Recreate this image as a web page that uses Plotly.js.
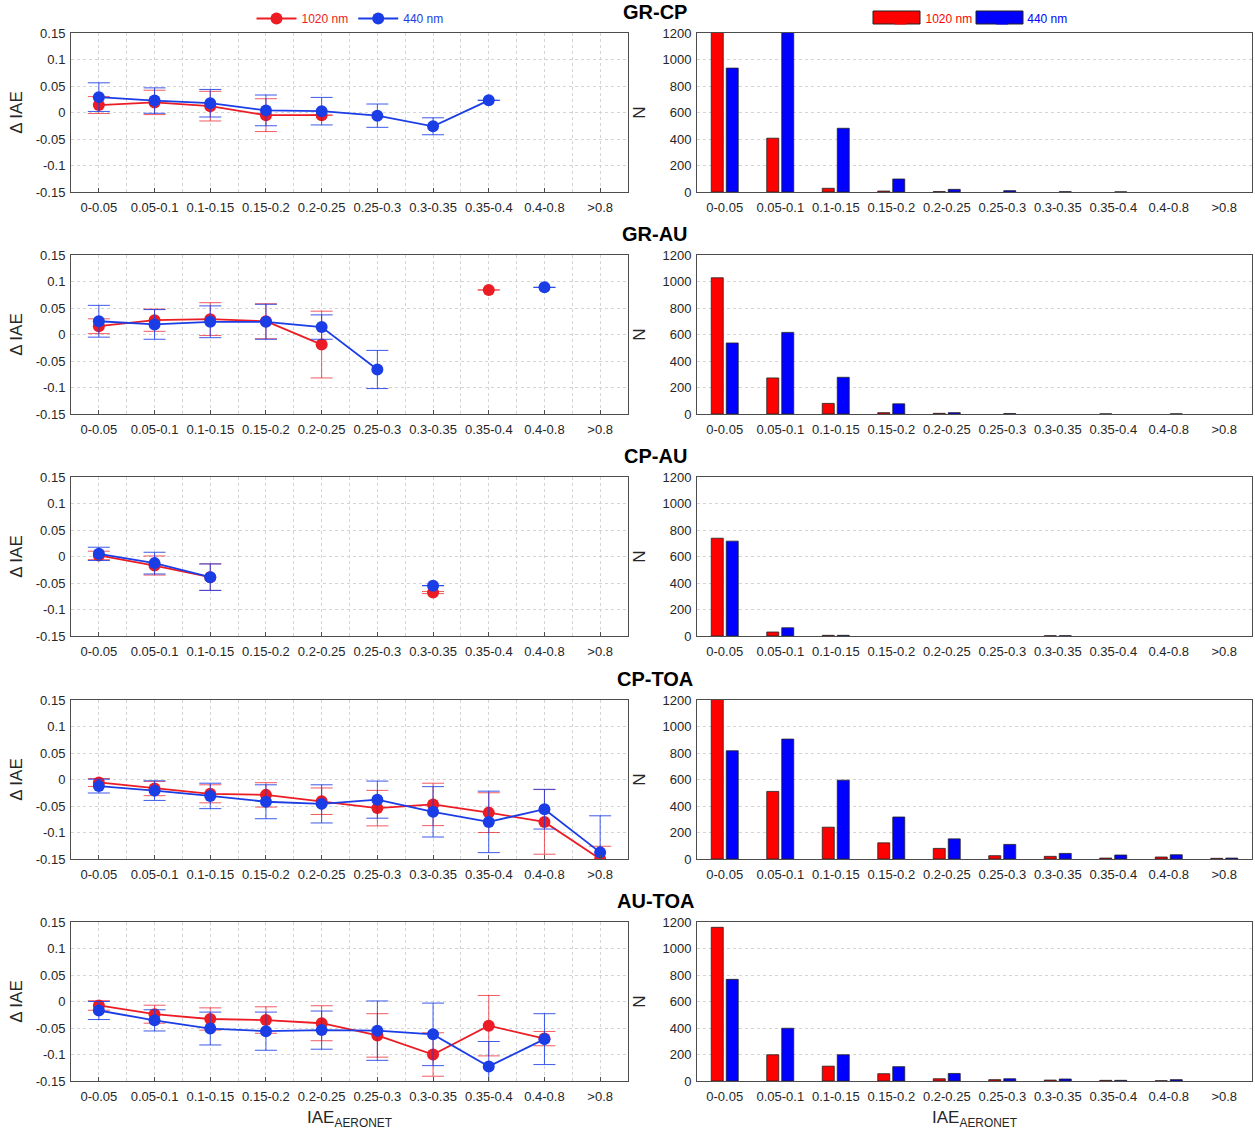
<!DOCTYPE html>
<html>
<head>
<meta charset="utf-8">
<script src="https://cdn.plot.ly/plotly-3.0.1.min.js"></script>
<style>
  html, body { margin: 0; padding: 0; background: #fff; }
  #chart { width: 1255px; height: 1137px; }
</style>
</head>
<body>
<div id="chart"></div>
<script>
// ---------- categories and tick labels ----------
const categories = ['0-0.05','0.05-0.1','0.1-0.15','0.15-0.2','0.2-0.25','0.25-0.3','0.3-0.35','0.35-0.4','0.4-0.8','>0.8'];
const deltaTickVals = [0.15, 0.1, 0.05, 0, -0.05, -0.1, -0.15];
const deltaTickText = ['0.15', '0.1', '0.05', '0', '-0.05', '-0.1', '-0.15'];
const nTickVals = [0, 200, 400, 600, 800, 1000, 1200];
const nTickText = ['0', '200', '400', '600', '800', '1000', '1200'];
const panelNames = ['GR-CP', 'GR-AU', 'CP-AU', 'CP-TOA', 'AU-TOA'];
const seriesNames = ['1020 nm', '440 nm'];

// ---------- Δ IAE (mean) and error (std) ----------
const grcp_d1020 = [0.014, 0.019, 0.012, -0.005, -0.005, null, null, null, null, null];
const grcp_e1020 = [0.016, 0.023, 0.028, 0.031, 0, null, null, null, null, null];
const grcp_d440  = [0.029, 0.0225, 0.0175, 0.004, 0.0025, -0.006, -0.026, 0.023, null, null];
const grcp_e440  = [0.027, 0.024, 0.026, 0.029, 0.026, 0.022, 0.016, 0, null, null];

const grau_d1020 = [0.0156, 0.027, 0.029, 0.025, -0.019, null, null, 0.084, null, null];
const grau_e1020 = [0.014, 0.021, 0.031, 0.033, 0.063, null, null, 0, null, null];
const grau_d440  = [0.025, 0.019, 0.024, 0.024, 0.014, -0.066, null, null, 0.089, null];
const grau_e440  = [0.030, 0.028, 0.030, 0.033, 0.023, 0.036, null, null, 0, null];

const cpau_d1020 = [0.002, -0.017, -0.039, null, null, null, -0.068, null, null, null];
const cpau_e1020 = [0.008, 0.018, 0.025, null, null, null, 0.002, null, null, null];
const cpau_d440  = [0.005, -0.0125, -0.039, null, null, null, -0.055, null, null, null];
const cpau_e440  = [0.0125, 0.0205, 0.025, null, null, null, 0, null, null, null];

const cptoa_d1020 = [-0.0056, -0.017, -0.027, -0.029, -0.041, -0.054, -0.047, -0.0625, -0.080, -0.150];
const cptoa_e1020 = [0.0075, 0.0135, 0.017, 0.023, 0.025, 0.0335, 0.040, 0.0375, 0.061, 0.024];
const cptoa_d440  = [-0.0125, -0.021, -0.031, -0.042, -0.046, -0.038, -0.061, -0.080, -0.056, -0.1375];
const cptoa_e440  = [0.013, 0.0185, 0.024, 0.032, 0.036, 0.035, 0.0475, 0.058, 0.0375, 0.069];

const autoa_d1020 = [-0.0075, -0.024, -0.033, -0.035, -0.041, -0.064, -0.100, -0.0456, -0.070, null];
const autoa_e1020 = [0.009, 0.017, 0.021, 0.025, 0.033, 0.041, 0.041, 0.057, 0.0135, null];
const autoa_d440  = [-0.017, -0.0356, -0.051, -0.056, -0.054, -0.055, -0.062, -0.1225, -0.071, null];
const autoa_e440  = [0.017, 0.020, 0.031, 0.036, 0.036, 0.056, 0.059, 0.047, 0.048, null];

// ---------- N (counts) ----------
const grcp_n1020 = [1400, 406, 28, 7, 3, 0, 0, 0, 0, 0];
const grcp_n440  = [935, 1300, 481, 98, 20, 10, 2, 1, 0, 0];
const grau_n1020 = [1028, 272, 80, 10, 5, 0, 0, 1, 0, 0];
const grau_n440  = [536, 616, 277, 77, 10, 3, 0, 0, 1, 0];
const cpau_n1020 = [738, 30, 5, 0, 0, 0, 2, 0, 0, 0];
const cpau_n440  = [716, 62, 5, 0, 0, 0, 2, 0, 0, 0];
const cptoa_n1020 = [1350, 510, 240, 122, 80, 25, 20, 7, 15, 5];
const cptoa_n440  = [817, 905, 595, 317, 152, 110, 42, 30, 32, 7];
const autoa_n1020 = [1160, 198, 112, 55, 17, 10, 7, 5, 2, 0];
const autoa_n440  = [767, 398, 198, 108, 57, 17, 15, 5, 10, 0];

// ---------- assemble ----------
const deltaSets = [
  [grcp_d1020, grcp_e1020, grcp_d440, grcp_e440],
  [grau_d1020, grau_e1020, grau_d440, grau_e440],
  [cpau_d1020, cpau_e1020, cpau_d440, cpau_e440],
  [cptoa_d1020, cptoa_e1020, cptoa_d440, cptoa_e440],
  [autoa_d1020, autoa_e1020, autoa_d440, autoa_e440]
];
const countSets = [
  [grcp_n1020, grcp_n440],
  [grau_n1020, grau_n440],
  [cpau_n1020, cpau_n440],
  [cptoa_n1020, cptoa_n440],
  [autoa_n1020, autoa_n440]
];

const W = 1255, H = 1137;
const xIdx = categories.map((c, i) => i + 1);
const redLine = '#ec1c24', blueLine = '#1b3de6';
const redErr = 'rgba(236,28,36,0.72)', blueErr = 'rgba(27,61,230,0.85)';
const redBar = '#ff0000', blueBar = '#0000ff';
const FONT = 'Liberation Sans, Arial, sans-serif';
const tickFont = { family: FONT, size: 13, color: '#262626' };
const titleFont = { family: FONT, size: 17, color: '#262626' };

// pixel geometry of the panels
const rowTop = [33, 255, 477, 700, 922];
const rowH = 159;
const leftX = [71, 628], rightX = [697, 1252];

const traces = [];
const layout = {
  width: W, height: H,
  margin: { l: 0, r: 0, t: 0, b: 0 },
  paper_bgcolor: '#ffffff', plot_bgcolor: '#ffffff',
  font: { family: FONT, color: '#262626' },
  barmode: 'group', bargap: 0.46, bargroupgap: 0.2,
  annotations: [], shapes: [], showlegend: true,
  legend: {
    x: 350 / W, xanchor: 'center', y: 1 - 4 / H, yanchor: 'top',
    orientation: 'h', font: { family: FONT, size: 12 }, bgcolor: 'rgba(0,0,0,0)',
    itemwidth: 40
  },
  legend2: {
    x: 974 / W, xanchor: 'center', y: 1 - 4 / H, yanchor: 'top',
    orientation: 'h', font: { family: FONT, size: 12 }, bgcolor: 'rgba(0,0,0,0)',
    itemwidth: 40
  },
  // hidden axes that only host the bar-legend entries
  xaxis11: { visible: false, domain: [0, 0.001], anchor: 'y11', fixedrange: true },
  yaxis11: { visible: false, domain: [0, 0.001], anchor: 'x11', fixedrange: true }
};

// bar legend entries (empty bar traces on hidden axes that only carry the legend item)
const barLegendColors = [redBar, blueBar];
seriesNames.forEach((nm, k) => {
  traces.push({
    type: 'bar', x: [null], y: [null], xaxis: 'x11', yaxis: 'y11',
    name: '<span style="color:' + barLegendColors[k] + '">' + nm + '</span>',
    legend: 'legend2', showlegend: true, hoverinfo: 'skip',
    marker: { color: barLegendColors[k], line: { color: barLegendColors[k], width: 0 } }
  });
});

for (let r = 0; r < 5; r++) {
  const yDom = [1 - (rowTop[r] + rowH) / H, 1 - rowTop[r] / H];
  const li = 2 * r + 1, ri = 2 * r + 2;
  const lx = 'x' + li, ly = 'y' + li, rx = 'x' + ri, ry = 'y' + ri;
  const lxa = 'xaxis' + li, lya = 'yaxis' + li, rxa = 'xaxis' + ri, rya = 'yaxis' + ri;
  const isLast = r === 4;

  const [d1, e1, d2, e2] = deltaSets[r];
  traces.push({
    type: 'scatter', mode: 'lines+markers', x: xIdx, y: d1, xaxis: lx, yaxis: ly,
    name: '<span style="color:#ec1c24">' + seriesNames[0] + '</span>',
    legend: 'legend', showlegend: r === 0, connectgaps: false,
    line: { color: redLine, width: 1.8 },
    marker: { color: redLine, size: 12 },
    error_y: { type: 'data', array: e1, visible: true, color: redErr, thickness: 1, width: 11 }
  });
  traces.push({
    type: 'scatter', mode: 'lines+markers', x: xIdx, y: d2, xaxis: lx, yaxis: ly,
    name: '<span style="color:#1b3de6">' + seriesNames[1] + '</span>',
    legend: 'legend', showlegend: r === 0, connectgaps: false,
    line: { color: blueLine, width: 1.8 },
    marker: { color: blueLine, size: 12 },
    error_y: { type: 'data', array: e2, visible: true, color: blueErr, thickness: 1, width: 11 }
  });

  const [n1, n2] = countSets[r];
  traces.push({
    type: 'bar', x: xIdx, y: n1, xaxis: rx, yaxis: ry,
    name: seriesNames[0], showlegend: false,
    marker: { color: redBar, line: { color: '#222222', width: n1.map(v => v > 0 ? 0.8 : 0) } }
  });
  traces.push({
    type: 'bar', x: xIdx, y: n2, xaxis: rx, yaxis: ry,
    name: seriesNames[1], showlegend: false,
    marker: { color: blueBar, line: { color: '#222222', width: n2.map(v => v > 0 ? 0.8 : 0) } }
  });

  const baseX = {
    range: [0.5, 10.5], tickmode: 'array', tickvals: xIdx, ticktext: categories,
    tickfont: tickFont, showline: true, mirror: true, linecolor: '#4d4d4d', linewidth: 1,
    zeroline: false, automargin: false, fixedrange: true, ticklabelstandoff: 3
  };
  const xTitle = { text: 'IAE<sub>AERONET</sub>', font: titleFont, standoff: 8 };
  layout[lxa] = Object.assign({}, baseX, {
    domain: [leftX[0] / W, leftX[1] / W], anchor: ly,
    ticks: 'inside', ticklen: 4, tickcolor: '#4d4d4d',
    showgrid: true, gridcolor: '#d4d4d4', griddash: 'dot', gridwidth: 1,
    minor: { tickmode: 'array', tickvals: xIdx.map(v => v + 0.5), showgrid: true, gridcolor: '#d4d4d4', griddash: 'dot', ticks: '' }
  });
  layout[rxa] = Object.assign({}, baseX, {
    domain: [rightX[0] / W, rightX[1] / W], anchor: ry,
    ticks: '', showgrid: false
  });
  if (isLast) { layout[lxa].title = xTitle; layout[rxa].title = xTitle; }
  layout[lya] = {
    domain: yDom, anchor: lx, range: [-0.15, 0.15],
    tickmode: 'array', tickvals: deltaTickVals, ticktext: deltaTickText, tickfont: tickFont,
    showline: true, mirror: true, linecolor: '#4d4d4d', linewidth: 1,
    showgrid: true, gridcolor: '#d4d4d4', griddash: 'dot', zeroline: false,
    ticks: '', automargin: false, fixedrange: true, ticklabelstandoff: 2,
    title: { text: '\u0394 IAE', font: titleFont, standoff: 8 }
  };
  layout[rya] = {
    domain: yDom, anchor: rx, range: [0, 1200],
    tickmode: 'array', tickvals: nTickVals, ticktext: nTickText, tickfont: tickFont,
    showline: true, mirror: true, linecolor: '#4d4d4d', linewidth: 1,
    showgrid: true, gridcolor: '#d4d4d4', griddash: 'dot', zeroline: false,
    ticks: '', automargin: false, fixedrange: true, ticklabelstandoff: 2,
    title: { text: 'N', font: titleFont, standoff: 12 }
  };

  layout.annotations.push({
    text: panelNames[r], xref: 'paper', yref: 'paper',
    x: 655 / W, y: 1 - (rowTop[r] - 21) / H, xanchor: 'center', yanchor: 'middle',
    showarrow: false, font: { family: FONT, size: 20, color: '#000', weight: 'bold' }
  });
}

// wide rectangles behind the bar-legend symbols
const legRects = [[873, 920, redBar], [976, 1023, blueBar]];
legRects.forEach(([a, b, c]) => {
  layout.shapes.push({
    type: 'rect', xref: 'paper', yref: 'paper', layer: 'above',
    x0: a / W, x1: b / W, y0: 1 - 24 / H, y1: 1 - 11 / H,
    fillcolor: c, line: { color: '#222222', width: 1 }
  });
});

Plotly.newPlot('chart', traces, layout, { displayModeBar: false, staticPlot: true });
</script>
</body>
</html>
